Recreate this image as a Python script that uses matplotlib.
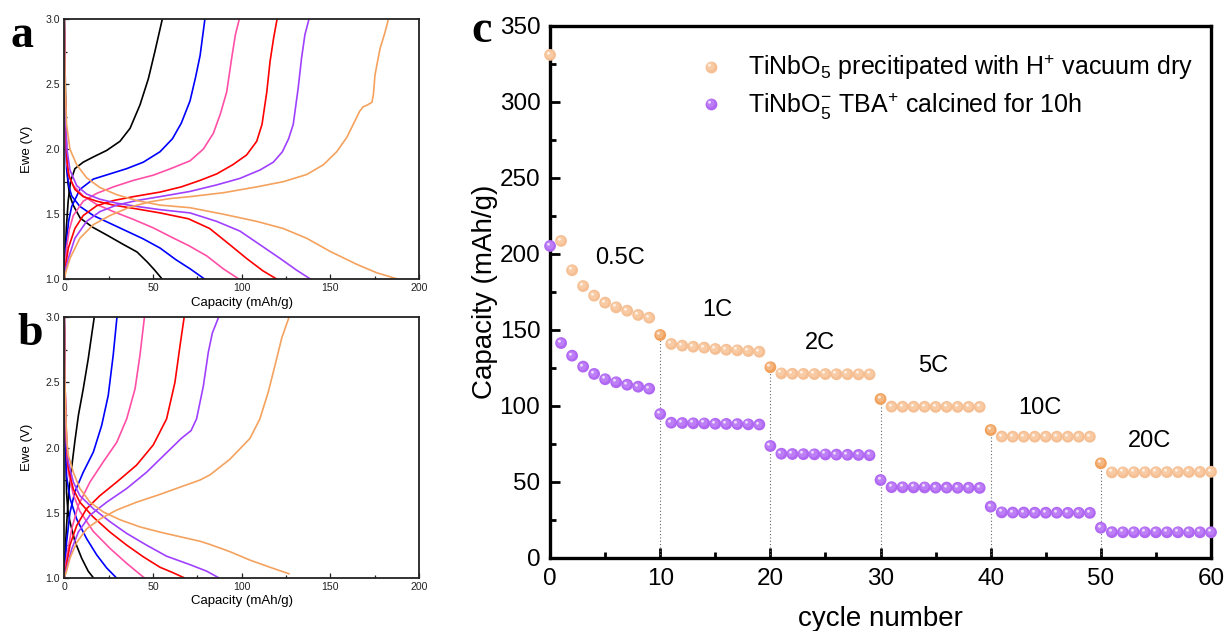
import numpy as np
import matplotlib
matplotlib.use("Agg")
import matplotlib.pyplot as plt
from matplotlib.path import Path
from matplotlib.lines import Line2D
from matplotlib.ticker import MultipleLocator, FormatStrFormatter

# ---------------------------------------------------------------------------
# Galvanostatic profiles, (capacity mAh/g, potential V)
# ---------------------------------------------------------------------------
# sample a
A_BLACK_CHG = [(0, 1.0), (0.5, 1.2), (1.2, 1.4), (2.2, 1.6), (3.5, 1.75), (6, 1.85), (10.7, 1.9),
               (16.4, 1.94), (23.9, 1.99), (31.4, 2.06), (37.1, 2.16), (42.7, 2.34), (47.4, 2.54),
               (51.1, 2.75), (55.3, 3.0)]
A_BLACK_DIS = [(0, 3.0), (0.6, 2.5), (1.2, 2.0), (2, 1.75), (3, 1.65), (5, 1.57), (9, 1.47), (16, 1.40),
               (24, 1.34), (33, 1.27), (41, 1.21), (47, 1.13), (51, 1.07), (55.3, 1.0)]
A_BLUE_CHG = [(0, 1.0), (0.5, 1.15), (1.3, 1.3), (2.5, 1.45), (4.2, 1.56), (8.8, 1.69), (16.4, 1.77),
              (25.8, 1.81), (35.2, 1.85), (44.6, 1.9), (54, 1.98), (61, 2.08), (66, 2.2), (70.9, 2.37),
              (74, 2.55), (76.6, 2.72), (79.3, 3.0)]
A_BLUE_DIS = [(0, 3.0), (0.4, 2.5), (0.8, 2.1), (1.3, 1.85), (2.5, 1.72), (4.2, 1.64), (8.8, 1.56),
              (16.4, 1.49), (25.8, 1.43), (35.2, 1.37), (44.6, 1.31), (54, 1.24), (63, 1.15), (71, 1.08),
              (79.3, 1.0)]
A_PINK_CHG = [(0, 1.0), (0.5, 1.1), (1.3, 1.24), (2.8, 1.38), (5.1, 1.49), (10.7, 1.6), (18.3, 1.66),
              (27.7, 1.71), (39, 1.76), (50.2, 1.8), (60, 1.85), (70.9, 1.91), (78.4, 2.0), (84, 2.12),
              (88, 2.27), (91.6, 2.44), (94.4, 2.7), (96.5, 2.88), (98.7, 3.0)]
A_PINK_DIS = [(0, 3.0), (0.4, 2.5), (0.9, 2.1), (1.5, 1.88), (3, 1.78), (5.1, 1.72), (10.7, 1.64),
              (18.3, 1.575), (27.7, 1.52), (39, 1.46), (50.2, 1.395), (61, 1.32), (70, 1.26), (80.3, 1.18),
              (89.7, 1.08), (98.7, 1.0)]
A_RED_CHG = [(0, 1.0), (0.7, 1.1), (2.3, 1.24), (6, 1.39), (10.7, 1.49), (18.3, 1.565), (27.7, 1.605),
             (39, 1.635), (54, 1.67), (66, 1.71), (76.6, 1.76), (86, 1.81), (95, 1.88), (102.8, 1.955),
             (108.5, 2.06), (111.5, 2.19), (114.2, 2.44), (116, 2.67), (118, 2.85), (120, 3.0)]
A_RED_DIS = [(0, 3.0), (0.4, 2.5), (0.9, 2.15), (1.5, 1.92), (2.5, 1.8), (6, 1.69), (10.7, 1.635),
             (18.3, 1.6), (27.7, 1.57), (39, 1.545), (54, 1.51), (70, 1.465), (82, 1.39), (93.4, 1.265),
             (102.8, 1.16), (112, 1.065), (120, 1.0)]
A_PURPLE_CHG = [(0, 1.0), (0.8, 1.08), (2.3, 1.16), (6, 1.315), (12.6, 1.445), (20.1, 1.52), (29.6, 1.57),
                (40.8, 1.605), (54, 1.635), (70.9, 1.675), (85.9, 1.725), (99, 1.775), (110.4, 1.84),
                (117.9, 1.9), (123, 1.98), (126.5, 2.08), (129.1, 2.19), (131.9, 2.47), (133.8, 2.7),
                (135.7, 2.88), (138, 3.0)]
A_PURPLE_DIS = [(0, 3.0), (0.4, 2.5), (0.9, 2.2), (1.5, 2.0), (3.2, 1.84), (7, 1.72), (12.6, 1.655),
                (20.1, 1.615), (29.6, 1.585), (40.8, 1.56), (54, 1.535), (70.9, 1.51), (85.9, 1.445),
                (99.1, 1.37), (110.4, 1.265), (121.7, 1.16), (131, 1.07), (139, 1.0)]
A_ORANGE_CHG = [(0, 1.0), (1, 1.06), (3.2, 1.16), (8.8, 1.315), (16.4, 1.42), (25.8, 1.49), (37.1, 1.555),
                (48.3, 1.595), (59.6, 1.62), (70.9, 1.635), (89.7, 1.665), (108.5, 1.71), (123.5, 1.75),
                (136.7, 1.805), (146.1, 1.88), (153.6, 1.98), (159.3, 2.09), (164, 2.22), (166.5, 2.29),
                (168.5, 2.325), (171, 2.34), (173.5, 2.36), (174.3, 2.42), (175.2, 2.57), (178, 2.77),
                (180.9, 2.9), (182.8, 3.0)]
A_ORANGE_DIS = [(0, 3.0), (0.5, 2.5), (1.3, 2.19), (3.2, 2.0), (7, 1.88), (12.6, 1.78), (20.1, 1.705),
                (29.6, 1.65), (40.8, 1.605), (54, 1.57), (70.9, 1.55), (89.7, 1.5), (108.5, 1.445),
                (123.5, 1.39), (136.7, 1.315), (149.8, 1.215), (164.9, 1.115), (176.2, 1.05), (188.4, 1.0)]

# sample b
B_BLACK_CHG = [(0, 1.0), (0.5, 1.2), (1.3, 1.4), (2.5, 1.65), (4.2, 1.85), (6, 2.05), (8, 2.25),
               (10.7, 2.45), (13.5, 2.68), (15.3, 2.85), (16.9, 3.0)]
B_BLACK_DIS = [(0, 3.0), (0.4, 2.5), (0.8, 2.0), (1.3, 1.65), (2, 1.52), (3.2, 1.43), (6, 1.28),
               (9.8, 1.15), (13.5, 1.05), (16.4, 1.0)]
B_BLUE_CHG = [(0, 1.0), (0.6, 1.12), (1.3, 1.27), (3.2, 1.5), (6, 1.66), (10.7, 1.81), (16.4, 1.965),
              (21.1, 2.17), (24.8, 2.4), (27.6, 2.71), (29.7, 3.0)]
B_BLUE_DIS = [(0, 3.0), (0.4, 2.5), (0.8, 2.1), (1.3, 1.78), (3.2, 1.61), (7, 1.45), (12.6, 1.3),
              (18.3, 1.175), (23.9, 1.075), (29.3, 1.0)]
B_PINK_CHG = [(0, 1.0), (0.6, 1.07), (1.5, 1.17), (4.2, 1.375), (7.9, 1.555), (14.5, 1.735), (22, 1.89),
              (29.6, 2.04), (35.2, 2.22), (39.9, 2.45), (42.7, 2.71), (45.2, 3.0)]
B_PINK_DIS = [(0, 3.0), (0.4, 2.5), (1, 2.1), (1.6, 1.92), (2.3, 1.81), (5.1, 1.64), (8.8, 1.51),
              (16.4, 1.355), (25.8, 1.225), (35.2, 1.11), (45, 1.0)]
B_RED_CHG = [(0, 1.0), (0.6, 1.05), (1.3, 1.1), (3.2, 1.25), (7, 1.4), (12.6, 1.53), (20.1, 1.63),
             (29.6, 1.735), (40.8, 1.865), (50.2, 2.02), (57.7, 2.22), (62.4, 2.5), (65.3, 2.785),
             (67.6, 3.0)]
B_RED_DIS = [(0, 3.0), (0.4, 2.5), (0.9, 2.2), (1.5, 1.98), (2.3, 1.84), (5.1, 1.68), (8.8, 1.58),
             (16.4, 1.465), (25.8, 1.35), (35.2, 1.25), (44.6, 1.16), (54, 1.08), (61, 1.04), (67.5, 1.0)]
B_PURPLE_CHG = [(0, 1.0), (0.7, 1.03), (1.3, 1.07), (4.2, 1.22), (7.9, 1.35), (14.5, 1.48), (23.9, 1.58),
                (35.2, 1.685), (46.4, 1.81), (57.7, 1.96), (66, 2.07), (71.5, 2.13), (74.6, 2.22),
                (78.4, 2.47), (81.2, 2.73), (83.5, 2.88), (87, 3.0)]
B_PURPLE_DIS = [(0, 3.0), (0.4, 2.5), (0.9, 2.2), (1.5, 2.02), (2.3, 1.89), (5.1, 1.735), (8.8, 1.63),
                (16.4, 1.53), (25.8, 1.43), (35.2, 1.34), (46.4, 1.25), (57.7, 1.165), (70.9, 1.1),
                (80.3, 1.05), (87, 1.0)]
B_ORANGE_CHG = [(0, 1.0), (0.5, 1.02), (1.3, 1.05), (3.2, 1.15), (7, 1.27), (12.6, 1.375), (20.1, 1.45),
                (29.6, 1.52), (40.8, 1.58), (54, 1.64), (65.2, 1.695), (76.5, 1.75), (82.2, 1.79),
                (93.4, 1.91), (104.7, 2.07), (110.3, 2.22), (115.1, 2.43), (118.8, 2.63), (122.6, 2.84),
                (126.7, 3.0)]
B_ORANGE_DIS = [(0, 3.0), (0.4, 2.5), (1, 2.2), (1.6, 2.03), (2.3, 1.94), (5.1, 1.81), (8.8, 1.685),
                (14.5, 1.58), (22, 1.505), (31.4, 1.445), (42.7, 1.39), (54, 1.35), (65.2, 1.315),
                (76.5, 1.28), (82.2, 1.255), (93.4, 1.2), (104.7, 1.135), (116, 1.08), (126.7, 1.03)]

RATE_COLORS = ["#000000", "#0000FF", "#FF4FA6", "#FF0000", "#A040FF", "#F4A25E"]

# ---------------------------------------------------------------------------
# Rate capability (cycle number vs capacity)
# ---------------------------------------------------------------------------
CYCLES = list(range(61))
CAP_H_VACUUM = [331.0, 208.6, 189.3, 178.9, 172.6, 168.0, 164.9, 162.7, 159.9, 158.1,
                146.7, 140.8, 139.7, 139.0, 138.4, 137.5, 137.0, 136.6, 136.2, 135.7,
                125.5, 121.4, 121.2, 121.1, 121.0, 121.0, 120.9, 120.9, 120.8, 120.8,
                104.6, 99.6, 99.5, 99.5, 99.5, 99.4, 99.4, 99.4, 99.4, 99.4,
                84.2, 79.9, 79.8, 79.8, 79.8, 79.8, 79.8, 79.8, 79.8, 79.8,
                62.3, 56.3, 56.3, 56.4, 56.4, 56.4, 56.5, 56.5, 56.6, 56.6, 56.7]
CAP_TBA_CALCINED = [205.3, 141.4, 133.1, 125.9, 121.1, 117.6, 115.6, 114.0, 112.7, 111.4,
                    94.7, 89.0, 88.8, 88.6, 88.5, 88.3, 88.2, 88.1, 87.9, 87.8,
                    73.7, 68.6, 68.4, 68.3, 68.2, 68.1, 68.0, 67.9, 67.8, 67.6,
                    51.3, 46.6, 46.5, 46.4, 46.4, 46.3, 46.3, 46.2, 46.2, 46.1,
                    33.8, 30.0, 29.9, 29.9, 29.8, 29.8, 29.8, 29.7, 29.7, 29.7,
                    19.9, 17.0, 16.9, 16.9, 16.9, 16.9, 16.9, 16.9, 16.9, 16.9, 16.9]
RATE_STEPS = [0, 10, 20, 30, 40, 50]
RATE_LABELS = ["0.5C", "1C", "2C", "5C", "10C", "20C"]
LEGEND_LABELS = [r"TiNbO$_5$ precitipated with H$^{+}$ vacuum dry",
                 r"TiNbO$_5^{-}$ TBA$^{+}$ calcined for 10h"]

plt.rcParams["font.family"] = ["Liberation Sans", "DejaVu Sans"]
plt.rcParams["mathtext.default"] = "regular"

fig = plt.figure(figsize=(12.24, 6.31), dpi=100)


def profile_axes(rect, curves):
    ax = fig.add_axes(rect)
    for (chg, dis), color in zip(curves, RATE_COLORS):
        for seg in (dis, chg):
            arr = np.asarray(seg, dtype=float)
            ax.plot(arr[:, 0], arr[:, 1], color=color, lw=1.2, solid_joinstyle="round")
    ax.set_xlim(0, 200)
    ax.set_ylim(1.0, 3.0)
    ax.xaxis.set_major_locator(MultipleLocator(50))
    ax.xaxis.set_minor_locator(MultipleLocator(25))
    ax.yaxis.set_major_locator(MultipleLocator(0.5))
    ax.yaxis.set_minor_locator(MultipleLocator(0.25))
    ax.yaxis.set_major_formatter(FormatStrFormatter("%.1f"))
    ax.tick_params(which="both", direction="in", top=False, right=False,
                   labelsize=7.6, width=0.9, colors="#222222", pad=3)
    ax.tick_params(which="major", length=3.5)
    ax.tick_params(which="minor", length=2.2)
    for sp in ax.spines.values():
        sp.set_linewidth(1.3)
        sp.set_color("#222222")
    ax.set_xlabel("Capacity (mAh/g)", fontsize=9.5, labelpad=2.5)
    ax.set_ylabel("Ewe (V)", fontsize=9.5, labelpad=9)
    return ax


ax_a = profile_axes([0.0525, 0.5574, 0.2898, 0.4125],
                    [(A_BLACK_CHG, A_BLACK_DIS), (A_BLUE_CHG, A_BLUE_DIS), (A_PINK_CHG, A_PINK_DIS),
                     (A_RED_CHG, A_RED_DIS), (A_PURPLE_CHG, A_PURPLE_DIS), (A_ORANGE_CHG, A_ORANGE_DIS)])
ax_b = profile_axes([0.0525, 0.0845, 0.2898, 0.4126],
                    [(B_BLACK_CHG, B_BLACK_DIS), (B_BLUE_CHG, B_BLUE_DIS), (B_PINK_CHG, B_PINK_DIS),
                     (B_RED_CHG, B_RED_DIS), (B_PURPLE_CHG, B_PURPLE_DIS), (B_ORANGE_CHG, B_ORANGE_DIS)])

# ---------------------------------------------------------------------------
# Rate capability panel with shaded "sphere" markers
# ---------------------------------------------------------------------------
ax_c = fig.add_axes([0.4494, 0.1157, 0.5400, 0.8431])


def offset_dot(cx, cy, r):
    """Small filled circle placed inside the unit marker box (box kept by two anchors)."""
    anchors = Path([(-0.5, -0.5), (0.5, 0.5)], [Path.MOVETO, Path.MOVETO])
    dot = Path.circle((cx, cy), r)
    return Path.make_compound_path(anchors, dot)


GLOW = offset_dot(-0.08, 0.10, 0.34)
SHINE = offset_dot(-0.17, 0.19, 0.12)
MS = 8.5

ORANGE = "#F5BF93"
ORANGE_STEP = "#F1A15C"
PURPLE = "#B068F2"


def sphere_points(x, y, colors, glow_color):
    ax_c.scatter(x, y, s=MS ** 2, c=colors, marker="o", linewidths=0, zorder=4, clip_on=False)
    ax_c.scatter(x, y, s=MS ** 2, c=glow_color, marker=GLOW, linewidths=0, alpha=0.35,
                 zorder=5, clip_on=False)
    ax_c.scatter(x, y, s=MS ** 2, c="white", marker=SHINE, linewidths=0, alpha=0.75,
                 zorder=6, clip_on=False)


h_colors = [ORANGE_STEP if (c in RATE_STEPS and c > 0) else ORANGE for c in CYCLES]
sphere_points(CYCLES, CAP_TBA_CALCINED, [PURPLE] * len(CYCLES), "#D6A8FF")
sphere_points(CYCLES, CAP_H_VACUUM, h_colors, "#FFE2C8")

# dotted guides under the first point of every new rate
for step in RATE_STEPS[1:]:
    ax_c.plot([step, step], [0, CAP_H_VACUUM[step]], color="#666666", lw=0.8,
              ls=(0, (1, 2)), zorder=2)

label_pos = [(6.35, 197.4), (15.2, 163.2), (24.5, 141.4), (34.8, 126.3), (44.5, 98.7), (54.4, 77.0)]
for txt, (lx, ly) in zip(RATE_LABELS, label_pos):
    ax_c.text(lx, ly, txt, fontsize=17, ha="center", va="center")

ax_c.set_xlim(0, 60)
ax_c.set_ylim(0, 350)
ax_c.xaxis.set_major_locator(MultipleLocator(10))
ax_c.xaxis.set_minor_locator(MultipleLocator(5))
ax_c.yaxis.set_major_locator(MultipleLocator(50))
ax_c.yaxis.set_minor_locator(MultipleLocator(25))
ax_c.tick_params(which="both", direction="in", top=False, right=False, labelsize=17.5,
                 width=2.0, pad=7)
ax_c.tick_params(which="major", length=7)
ax_c.tick_params(which="minor", length=4)
for sp in ax_c.spines.values():
    sp.set_linewidth(2.4)
ax_c.set_xlabel("cycle number", fontsize=20, labelpad=11.5)
ax_c.set_ylabel("Capacity (mAh/g)", fontsize=20, labelpad=1)


def legend_handle(color, glow_color):
    base = Line2D([], [], ls="none", marker="o", ms=MS, mfc=color, mew=0)
    glow = Line2D([], [], ls="none", marker=GLOW, ms=MS, mfc=glow_color, mew=0, alpha=0.35)
    shine = Line2D([], [], ls="none", marker=SHINE, ms=MS, mfc="white", mew=0, alpha=0.75)
    return (base, glow, shine)


ax_c.legend([legend_handle(ORANGE, "#FFE2C8"), legend_handle(PURPLE, "#D6A8FF")], LEGEND_LABELS,
            loc="upper left", bbox_to_anchor=(0.21, 0.968), frameon=False, fontsize=18,
            handlelength=1.0, handletextpad=0.95, labelspacing=0.32, borderaxespad=0)

# panel letters
for letter, (fx, fy) in zip("abc", [(10, 47), (17, 345), (471, 42)]):
    fig.text(fx / 1224, 1 - fy / 631, letter, fontsize=33, fontweight="bold",
             family="Liberation Serif", va="baseline", ha="left")

fig.savefig("out.png", dpi=100)
